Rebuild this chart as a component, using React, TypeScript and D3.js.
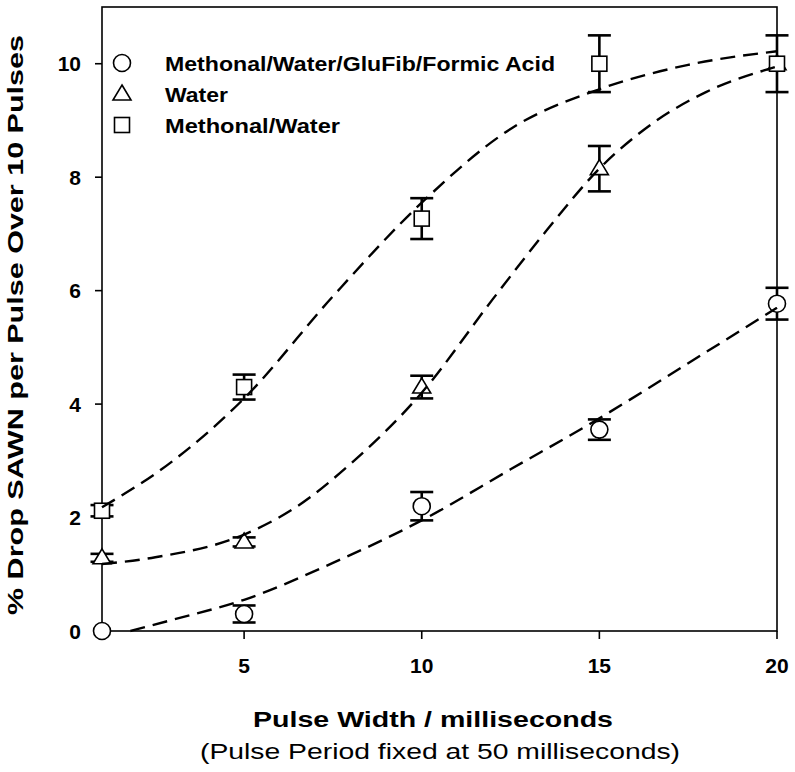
import React from "react";
import * as d3 from "d3";

const xTicks = [5, 10, 15, 20];
const yTicks = [0, 2, 4, 6, 8, 10];

const pulseWidths = [1, 5, 10, 15, 20];

const circleValues = [0, 0.3, 2.2, 3.55, 5.77];
const circleErrors = [0, 0.15, 0.25, 0.18, 0.28];
const triangleValues = [1.29, 1.57, 4.3, 8.15, 10.0];
const triangleErrors = [0.07, 0.08, 0.2, 0.4, 0];
const squareValues = [2.12, 4.3, 7.27, 10.0, 10.0];
const squareErrors = [0.1, 0.22, 0.36, 0.5, 0.5];

// fitted (dashed) curves
const circleFitX = [1.8, 3, 5, 7.5, 10, 12.5, 15, 17.5, 20];
const circleFitY = [0, 0.2, 0.55, 1.2, 1.95, 2.85, 3.75, 4.72, 5.7];
const triangleFitX = [1, 2.5, 5, 6.5, 8, 10, 12, 13.5, 15, 16.5, 18, 20];
const triangleFitY = [1.18, 1.3, 1.7, 2.2, 2.95, 4.2, 5.85, 7.05, 8.15, 8.95, 9.5, 9.95];
const squareFitX = [1, 3, 5, 7.5, 10, 12.5, 15, 17.5, 20];
const squareFitY = [2.18, 3.0, 4.1, 5.9, 7.55, 8.85, 9.55, 9.98, 10.22];

const legendLabels = [
  "Methonal/Water/GluFib/Formic Acid",
  "Water",
  "Methonal/Water",
];
const legendWidths = [390, 63, 175];

const xLabel = "Pulse Width / milliseconds";
const xSubLabel = "(Pulse Period fixed at 50 milliseconds)";
const yLabel = "% Drop SAWN per Pulse Over 10 Pulses";

const W = 795;
const H = 772;
const left = 102;
const right = 777;
const top = 7;
const bottom = 631;

const FONT = "'Liberation Sans', Arial, sans-serif";

type Shape = "circle" | "triangle" | "square";

function Marker({ shape, cx, cy }: { shape: Shape; cx: number; cy: number }) {
  const sw = 1.6;
  if (shape === "circle") {
    return <circle cx={cx} cy={cy} r={8.5} fill="white" stroke="black" strokeWidth={sw} />;
  }
  if (shape === "square") {
    return (
      <rect x={cx - 7.5} y={cy - 7.5} width={15} height={15} fill="white" stroke="black" strokeWidth={sw} />
    );
  }
  const h = 15;
  const w = 18;
  const p = `M${cx},${cy - h * 0.6} L${cx + w / 2},${cy + h * 0.4} L${cx - w / 2},${cy + h * 0.4} Z`;
  return <path d={p} fill="white" stroke="black" strokeWidth={sw} />;
}

export default function App() {
  const x = d3.scaleLinear().domain([1, 20]).range([left, right]);
  const y = d3.scaleLinear().domain([0, 11]).range([bottom, top]);

  const series: { shape: Shape; values: number[]; errors: number[]; fx: number[]; fy: number[] }[] = [
    { shape: "circle", values: circleValues, errors: circleErrors, fx: circleFitX, fy: circleFitY },
    { shape: "triangle", values: triangleValues, errors: triangleErrors, fx: triangleFitX, fy: triangleFitY },
    { shape: "square", values: squareValues, errors: squareErrors, fx: squareFitX, fy: squareFitY },
  ];

  const line = d3
    .line<[number, number]>()
    .x((d) => x(d[0]))
    .y((d) => y(d[1]))
    .curve(d3.curveMonotoneX);

  const capW = 11.5;

  return (
    <svg width={W} height={H} style={{ position: "absolute", left: 0, top: 0, background: "white" }}>
      <rect x={0} y={0} width={W} height={H} fill="white" />
      {/* frame */}
      <rect x={left} y={top} width={right - left} height={bottom - top} fill="none" stroke="black" strokeWidth={1.6} />
      {/* y ticks */}
      {yTicks.map((t) => (
        <g key={"y" + t}>
          <line x1={left - 7} x2={left} y1={y(t)} y2={y(t)} stroke="black" strokeWidth={1.6} />
          <text
            x={left - 21}
            y={y(t)}
            dy="0.36em"
            textAnchor="end"
            fontFamily={FONT}
            fontWeight="bold"
            fontSize={21}
          >
            {t}
          </text>
        </g>
      ))}
      {/* x ticks */}
      {xTicks.map((t) => (
        <g key={"x" + t}>
          <line x1={x(t)} x2={x(t)} y1={bottom} y2={bottom + 8} stroke="black" strokeWidth={1.6} />
          <text x={x(t)} y={673} textAnchor="middle" fontFamily={FONT} fontWeight="bold" fontSize={21}>
            {t}
          </text>
        </g>
      ))}

      {/* error bars */}
      {series.map((s, si) =>
        pulseWidths.map((pw, i) =>
          s.errors[i] > 0 ? (
            <g key={`e${si}-${i}`} stroke="black" strokeWidth={2.6}>
              <line x1={x(pw)} x2={x(pw)} y1={y(s.values[i] + s.errors[i])} y2={y(s.values[i] - s.errors[i])} />
              <line
                x1={x(pw) - capW}
                x2={x(pw) + capW}
                y1={y(s.values[i] + s.errors[i])}
                y2={y(s.values[i] + s.errors[i])}
              />
              <line
                x1={x(pw) - capW}
                x2={x(pw) + capW}
                y1={y(s.values[i] - s.errors[i])}
                y2={y(s.values[i] - s.errors[i])}
              />
            </g>
          ) : null
        )
      )}

      {/* markers */}
      {series.map((s, si) =>
        pulseWidths.map((pw, i) => <Marker key={`m${si}-${i}`} shape={s.shape} cx={x(pw)} cy={y(s.values[i])} />)
      )}

      {/* fitted curves */}
      {series.map((s, si) => (
        <path
          key={"c" + si}
          d={line(s.fx.map((v, i) => [v, s.fy[i]] as [number, number])) || ""}
          fill="none"
          stroke="black"
          strokeWidth={2.4}
          strokeDasharray="15 8"
        />
      ))}

      {/* legend */}
      {legendLabels.map((lab, i) => {
        const cy = 63 + i * 31;
        return (
          <g key={"l" + i}>
            <Marker shape={series[i].shape} cx={122} cy={cy} />
            <text
              x={165}
              y={cy + 7.5}
              fontFamily={FONT}
              fontWeight="bold"
              fontSize={21}
              textLength={legendWidths[i]}
              lengthAdjust="spacingAndGlyphs"
            >
              {lab}
            </text>
          </g>
        );
      })}

      {/* axis titles */}
      <text
        x={253}
        y={727}
        fontFamily={FONT}
        fontWeight="bold"
        fontSize={22}
        textLength={360}
        lengthAdjust="spacingAndGlyphs"
      >
        {xLabel}
      </text>
      <text x={200} y={759} fontFamily={FONT} fontSize={22} textLength={480} lengthAdjust="spacingAndGlyphs">
        {xSubLabel}
      </text>
      <text
        transform={`translate(23, 615) rotate(-90)`}
        fontFamily={FONT}
        fontWeight="bold"
        fontSize={21.5}
        textLength={580}
        lengthAdjust="spacingAndGlyphs"
      >
        {yLabel}
      </text>
    </svg>
  );
}
